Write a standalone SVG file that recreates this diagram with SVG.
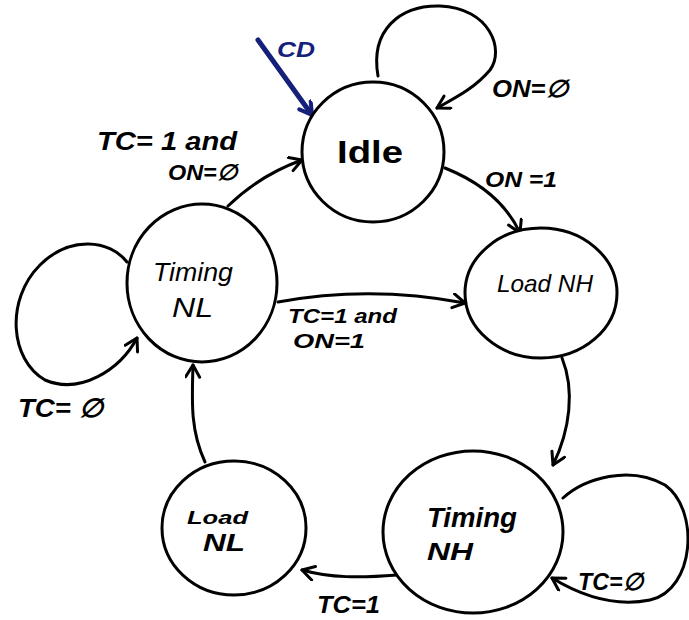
<svg xmlns="http://www.w3.org/2000/svg" width="689" height="620" viewBox="0 0 689 620">
<defs>
<marker id="arr" markerUnits="userSpaceOnUse" markerWidth="20" markerHeight="20" refX="14" refY="8" orient="auto">
<path d="M2,1 L14,8 L2,15" fill="none" stroke="#000" stroke-width="3" stroke-linecap="round" stroke-linejoin="round"/>
</marker>
<marker id="arrb" markerUnits="userSpaceOnUse" markerWidth="20" markerHeight="20" refX="14" refY="8" orient="auto">
<path d="M2,1 L14,8 L2,15" fill="none" stroke="#15207a" stroke-width="4" stroke-linecap="round" stroke-linejoin="round"/>
</marker>
</defs>
<style>
.node{fill:#fff;stroke:#000;stroke-width:3}
.edge{fill:none;stroke:#000;stroke-width:3;stroke-linecap:round;marker-end:url(#arr)}
.lbl{font-family:"Liberation Sans",Arial,sans-serif;font-style:italic;font-weight:bold;font-size:22px;fill:#000}
.nt{font-family:"Liberation Sans",Arial,sans-serif;font-style:italic;fill:#000}
</style>
<rect width="689" height="620" fill="#fff"/>
<g id="connectors">
<path class="edge" d="M378,76 C370,30 400,5 440,6 C490,8 505,50 490,70 C475,88 455,98 437,108"/>
<path d="M258,40 L312,115" fill="none" stroke="#15207a" stroke-width="5" stroke-linecap="round" marker-end="url(#arrb)"/>
<path class="edge" d="M445,168 Q500,190 520,233"/>
<path class="edge" d="M562,358 C575,390 570,430 553,465"/>
<path class="edge" d="M563,498 C585,478 630,465 665,485 C700,510 695,590 650,600 C610,608 575,592 552,578"/>
<path class="edge" d="M397,575 C360,578 330,578 302,570"/>
<path class="edge" d="M205,462 C190,430 192,400 193,365"/>
<path class="edge" d="M127,262 C110,240 70,235 40,265 C5,300 10,360 45,380 C80,395 120,370 137,338"/>
<path class="edge" d="M278,302 Q370,285 465,303"/>
<path class="edge" d="M228,206 Q260,175 302,160"/>
<text x="277" y="57" class="lbl" style="fill:#15207a;font-size:22px" textLength="38" lengthAdjust="spacingAndGlyphs">CD</text>
<text x="492" y="97" class="lbl" style="font-size:24px" textLength="76" lengthAdjust="spacingAndGlyphs">ON=∅</text>
<text x="485" y="187" class="lbl" textLength="72" lengthAdjust="spacingAndGlyphs">ON =1</text>
<text x="97" y="150" class="lbl" style="font-size:26px" textLength="140" lengthAdjust="spacingAndGlyphs">TC= 1 and</text>
<text x="168" y="180" class="lbl" textLength="69" lengthAdjust="spacingAndGlyphs">ON=∅</text>
<text x="288" y="323" class="lbl" style="font-size:20px" textLength="109" lengthAdjust="spacingAndGlyphs">TC=1 and</text>
<text x="293" y="348" class="lbl" style="font-size:20px" textLength="72" lengthAdjust="spacingAndGlyphs">ON=1</text>
<text x="18" y="417" class="lbl" style="font-size:26px" textLength="85" lengthAdjust="spacingAndGlyphs">TC= ∅</text>
<text x="578" y="590" class="lbl" style="font-size:24px" textLength="65" lengthAdjust="spacingAndGlyphs">TC=∅</text>
<text x="317" y="613" class="lbl" style="font-size:24px" textLength="63" lengthAdjust="spacingAndGlyphs">TC=1</text>
</g>
<g id="idle">
<ellipse class="node" cx="373" cy="152" rx="71" ry="70"/>
<text x="337" y="163" class="nt" style="font-style:normal;font-weight:bold;font-size:32px" textLength="66" lengthAdjust="spacingAndGlyphs">Idle</text>
</g>
<g id="load-nh">
<ellipse class="node" cx="541" cy="293" rx="76" ry="65"/>
<text x="497" y="292" class="nt" style="font-size:24px" textLength="96" lengthAdjust="spacingAndGlyphs">Load NH</text>
</g>
<g id="timing-nl">
<ellipse class="node" cx="202" cy="283" rx="75" ry="79"/>
<text x="153" y="281" class="nt" style="font-size:25px" textLength="80" lengthAdjust="spacingAndGlyphs">Timing</text>
<text x="172" y="317" class="nt" style="font-size:28px" textLength="41" lengthAdjust="spacingAndGlyphs">NL</text>
</g>
<g id="load-nl">
<ellipse class="node" cx="234" cy="528" rx="72" ry="67"/>
<text x="187" y="524" class="nt" style="font-weight:bold;font-size:19px" textLength="61" lengthAdjust="spacingAndGlyphs">Load</text>
<text x="203" y="551" class="nt" style="font-weight:bold;font-size:23px" textLength="42" lengthAdjust="spacingAndGlyphs">NL</text>
</g>
<g id="timing-nh">
<ellipse class="node" cx="473" cy="532" rx="90" ry="81"/>
<text x="427" y="527" class="nt" style="font-weight:bold;font-size:27px" textLength="90" lengthAdjust="spacingAndGlyphs">Timing</text>
<text x="427" y="560" class="nt" style="font-weight:bold;font-size:24px" textLength="46" lengthAdjust="spacingAndGlyphs">NH</text>
</g>
</svg>
